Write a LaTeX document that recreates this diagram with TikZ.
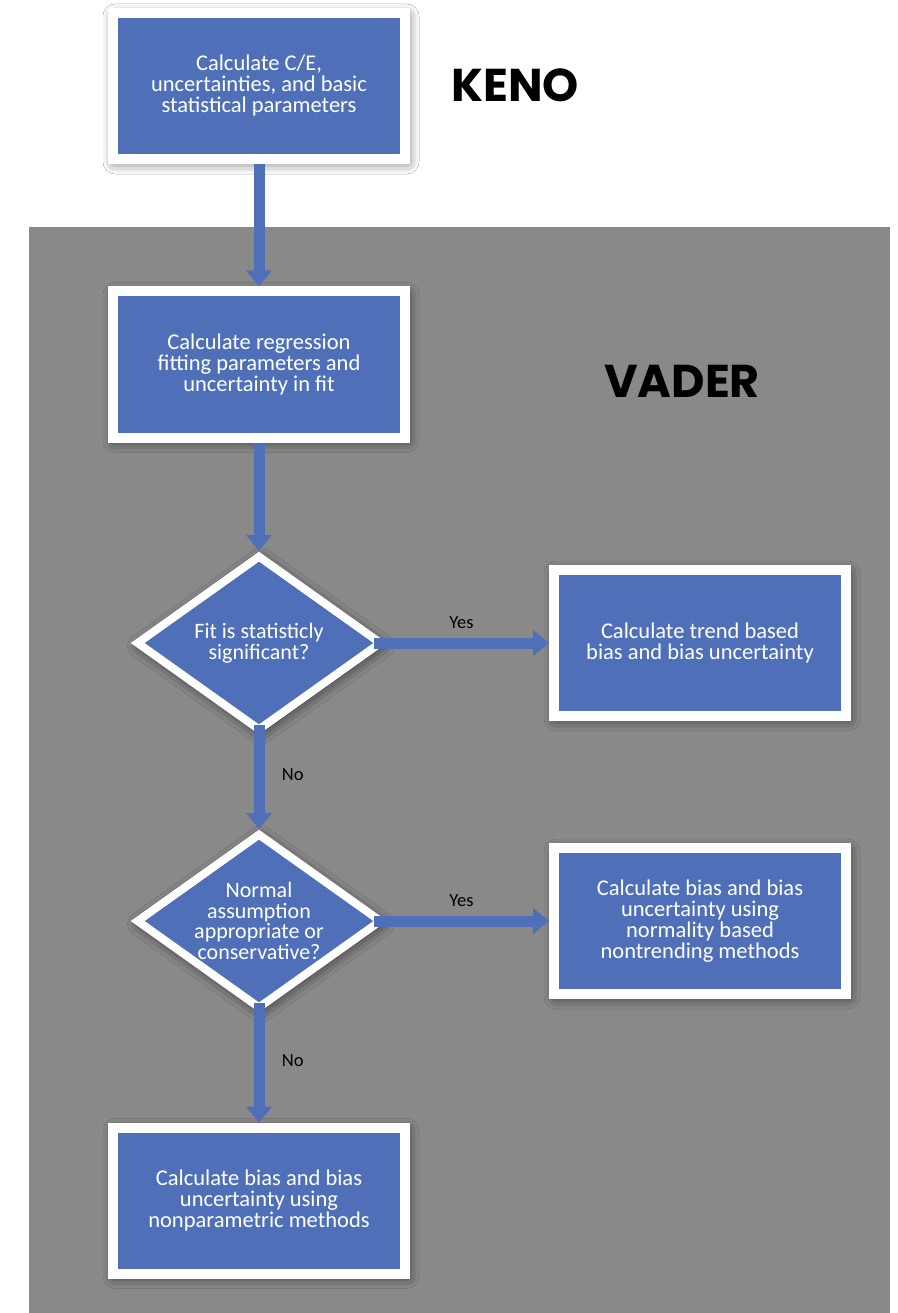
\documentclass[tikz,border=0pt]{standalone}
\usepackage{fontspec}
\setmainfont{Carlito}
\newfontfamily\titlefont{Poppins}
\usetikzlibrary{shapes.geometric,arrows.meta,shadows.blur}
\definecolor{boxblue}{HTML}{4F70B8}
\definecolor{panelgray}{HTML}{898989}
\tikzset{
  shad/.style={blur shadow={shadow xshift=2pt, shadow yshift=-3pt, shadow blur radius=12pt, shadow opacity=70}},
  stepbox/.style={rectangle, fill=boxblue, draw=white, line width=10pt, minimum width=292pt, minimum height=146pt,
    text=white, align=center, font=\fontsize{22.5}{21}\selectfont, shad},
  dia/.style={diamond, fill=boxblue, draw=white, line width=8pt, line join=miter, inner sep=0pt,
    minimum width=246pt, minimum height=176pt, shad},
  dtext/.style={text=white, align=center, font=\fontsize{22}{20.5}\selectfont, line width=0.4pt},
  arr/.style={draw=boxblue, line width=11pt, -{Triangle[width=25pt,length=16pt]}},
  lbl/.style={text=black, font=\fontsize{18.5}{20}\selectfont},
  title/.style={text=black, font=\titlefont\bfseries\fontsize{46}{50}\selectfont},
}
\begin{document}
\begin{tikzpicture}[x=1pt,y=-1pt]
\useasboundingbox (0,0) rectangle (897,1313);
\fill[white] (0,0) rectangle (897,1313);
\fill[panelgray] (29,227) rectangle (890,1313);

\node[stepbox] (b1) at (259,86) {Calculate C/E,\\uncertainties, and basic\\statistical parameters};
\node[title] (keno) at (515,85) {KENO};
\node[stepbox] (b2) at (259,364.5) {Calculate regression\\fitting parameters and\\uncertainty in fit};
\node[title] (vader) at (682,381) {VADER};
\node[dia, label={[dtext]center:{Fit is statisticly\\significant?}}] (d1) at (259,643) {};
\node[stepbox] (b3) at (700,643) {Calculate trend based\\bias and bias uncertainty};
\node[dia, label={[dtext]center:{Normal\\assumption\\appropriate or\\conservative?}}] (d2) at (259,921) {};
\node[stepbox] (b4) at (700,921) {Calculate bias and bias\\uncertainty using\\normality based\\nontrending methods};
\node[stepbox] (b5) at (259,1200.5) {Calculate bias and bias\\uncertainty using\\nonparametric methods};

\draw[arr] (b1.south) -- (b2.north);
\draw[arr] (b2.south) -- (d1.north);
\draw[arr] ([xshift=-12pt]d1.east) -- node[lbl, above, yshift=6pt, pos=0.5] (y1) {Yes} (b3.west);
\draw[arr] ([yshift=10pt]d1.south) -- node[lbl, right, xshift=14pt, pos=0.48] (n1) {No} (d2.north);
\draw[arr] ([xshift=-12pt]d2.east) -- node[lbl, above, yshift=6pt, pos=0.5] (y2) {Yes} (b4.west);
\draw[arr] ([yshift=10pt]d2.south) -- node[lbl, right, xshift=14pt, pos=0.48] (n2) {No} (b5.north);
\end{tikzpicture}
\end{document}
